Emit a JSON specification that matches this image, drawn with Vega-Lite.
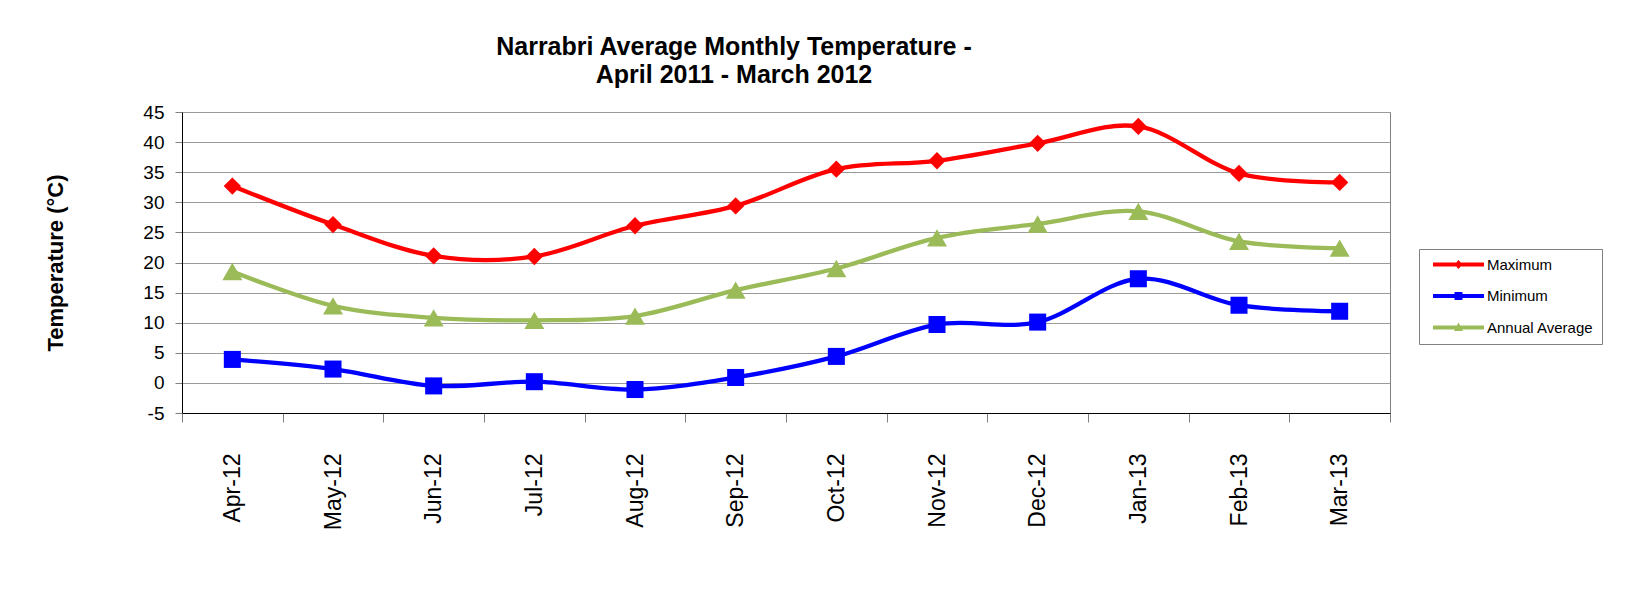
{
  "$schema": "https://vega.github.io/schema/vega-lite/v6.json",
  "width": 1208,
  "height": 301,
  "autosize": {"type": "none"},
  "padding": {"left": 182, "top": 112, "right": 240, "bottom": 196},
  "background": "white",
  "title": {
    "text": ["Narrabri Average Monthly Temperature -", "April 2011 - March 2012"],
    "fontSize": 25,
    "fontWeight": "bold",
    "lineHeight": 28,
    "offset": 15,
    "dx": -52,
    "anchor": "middle",
    "color": "black",
    "font": "Liberation Sans"
  },
  "data": {
    "values": [
      {"month": "Apr-12", "series": "Maximum", "value": 32.7},
      {"month": "May-12", "series": "Maximum", "value": 26.3},
      {"month": "Jun-12", "series": "Maximum", "value": 21.1},
      {"month": "Jul-12", "series": "Maximum", "value": 21.0},
      {"month": "Aug-12", "series": "Maximum", "value": 26.1},
      {"month": "Sep-12", "series": "Maximum", "value": 29.4},
      {"month": "Oct-12", "series": "Maximum", "value": 35.5},
      {"month": "Nov-12", "series": "Maximum", "value": 36.9},
      {"month": "Dec-12", "series": "Maximum", "value": 39.8},
      {"month": "Jan-13", "series": "Maximum", "value": 42.6},
      {"month": "Feb-13", "series": "Maximum", "value": 34.8},
      {"month": "Mar-13", "series": "Maximum", "value": 33.3},
      {"month": "Apr-12", "series": "Minimum", "value": 3.9},
      {"month": "May-12", "series": "Minimum", "value": 2.3},
      {"month": "Jun-12", "series": "Minimum", "value": -0.5},
      {"month": "Jul-12", "series": "Minimum", "value": 0.2},
      {"month": "Aug-12", "series": "Minimum", "value": -1.1},
      {"month": "Sep-12", "series": "Minimum", "value": 0.9},
      {"month": "Oct-12", "series": "Minimum", "value": 4.4},
      {"month": "Nov-12", "series": "Minimum", "value": 9.7},
      {"month": "Dec-12", "series": "Minimum", "value": 10.1},
      {"month": "Jan-13", "series": "Minimum", "value": 17.3},
      {"month": "Feb-13", "series": "Minimum", "value": 12.9},
      {"month": "Mar-13", "series": "Minimum", "value": 11.9},
      {"month": "Apr-12", "series": "Annual Average", "value": 18.5},
      {"month": "May-12", "series": "Annual Average", "value": 12.8},
      {"month": "Jun-12", "series": "Annual Average", "value": 10.8},
      {"month": "Jul-12", "series": "Annual Average", "value": 10.4},
      {"month": "Aug-12", "series": "Annual Average", "value": 11.1},
      {"month": "Sep-12", "series": "Annual Average", "value": 15.4},
      {"month": "Oct-12", "series": "Annual Average", "value": 19.0},
      {"month": "Nov-12", "series": "Annual Average", "value": 24.1},
      {"month": "Dec-12", "series": "Annual Average", "value": 26.4},
      {"month": "Jan-13", "series": "Annual Average", "value": 28.5},
      {"month": "Feb-13", "series": "Annual Average", "value": 23.5},
      {"month": "Mar-13", "series": "Annual Average", "value": 22.4}
    ]
  },
  "encoding": {
    "x": {
      "field": "month",
      "type": "nominal",
      "sort": null,
      "bandPosition": 0.5,
      "scale": {"type": "band", "paddingInner": 0, "paddingOuter": 0},
      "axis": {
        "title": null,
        "labelAngle": 270,
        "labelFontSize": 23,
        "labelColor": "black",
        "labelPadding": 31,
        "tickSize": 9,
        "tickColor": "#808080",
        "tickBand": "extent",
        "domainColor": "black",
        "grid": false
      }
    },
    "y": {
      "field": "value",
      "type": "quantitative",
      "scale": {"domain": [-5, 45], "nice": false, "zero": false},
      "axis": {
        "title": "Temperature (°C)",
        "titleFontSize": 22,
        "titleFontWeight": "bold",
        "titleColor": "black",
        "titlePadding": 75,
        "values": [-5, 0, 5, 10, 15, 20, 25, 30, 35, 40, 45],
        "labelExpr": "replace(datum.label, '−', '-')",
        "labelFontSize": 19,
        "labelColor": "black",
        "labelPadding": 11,
        "tickSize": 7,
        "tickColor": "#808080",
        "domainColor": "black",
        "grid": true,
        "gridColor": "#9a9a9a",
        "gridWidth": 1
      }
    }
  },
  "layer": [
    {
      "transform": [{"filter": "datum.series == 'Maximum'"}],
      "mark": {"type": "line", "interpolate": "cardinal", "strokeWidth": 4.3, "strokeJoin": "round", "strokeCap": "round", "color": "#FF0000"}
    },
    {
      "transform": [{"filter": "datum.series == 'Minimum'"}],
      "mark": {"type": "line", "interpolate": "cardinal", "strokeWidth": 4.3, "strokeJoin": "round", "strokeCap": "round", "color": "#0000FF"}
    },
    {
      "transform": [{"filter": "datum.series == 'Annual Average'"}],
      "mark": {"type": "line", "interpolate": "cardinal", "strokeWidth": 4.3, "strokeJoin": "round", "strokeCap": "round", "color": "#9BBB59"}
    },
    {
      "transform": [{"filter": "datum.series == 'Maximum'"}],
      "mark": {"type": "point", "shape": "diamond", "filled": true, "size": 300, "opacity": 1, "strokeWidth": 0, "color": "#FF0000"}
    },
    {
      "transform": [{"filter": "datum.series == 'Minimum'"}],
      "mark": {"type": "point", "shape": "square", "filled": true, "size": 290, "opacity": 1, "strokeWidth": 0, "color": "#0000FF"}
    },
    {
      "transform": [{"filter": "datum.series == 'Annual Average'"}],
      "mark": {"type": "point", "shape": "triangle-up", "filled": true, "size": 400, "opacity": 1, "strokeWidth": 0, "color": "#9BBB59"}
    },
    {
      "transform": [{"filter": "false"}],
      "mark": {"type": "point", "filled": true, "size": 225, "opacity": 1, "strokeWidth": 0},
      "encoding": {
        "color": {
          "field": "series",
          "type": "nominal",
          "scale": {
            "domain": ["Maximum", "Minimum", "Annual Average"],
            "range": ["#FF0000", "#0000FF", "#9BBB59"]
          },
          "legend": {
            "title": null,
            "orient": "none",
            "legendX": 1237,
            "legendY": 137,
            "padding": 8,
            "strokeColor": "#808080",
            "fillColor": "white",
            "symbolSize": 225,
            "symbolStrokeWidth": 0,
            "labelFontSize": 15,
            "labelColor": "black",
            "labelOffset": 45,
            "rowPadding": 15.5,
            "labelLimit": 300
          }
        },
        "shape": {
          "field": "series",
          "type": "nominal",
          "scale": {
            "domain": ["Maximum", "Minimum", "Annual Average"],
            "range": [
              "M-0.2,-0.267H6.6V0.267H-0.2Z M2.67,0L3.2,-0.6L3.73,0L3.2,0.6Z",
              "M-0.2,-0.267H6.6V0.267H-0.2Z M2.67,-0.53H3.73V0.53H2.67Z",
              "M-0.2,-0.267H6.6V0.267H-0.2Z M3.2,-0.67L3.8,0.47L2.6,0.47Z"
            ]
          },
          "legend": {
            "title": null,
            "orient": "none",
            "legendX": 1237,
            "legendY": 137,
            "padding": 8,
            "strokeColor": "#808080",
            "fillColor": "white",
            "symbolSize": 225,
            "symbolStrokeWidth": 0,
            "labelFontSize": 15,
            "labelColor": "black",
            "labelOffset": 45,
            "rowPadding": 15.5,
            "labelLimit": 300
          }
        }
      }
    }
  ],
  "config": {
    "font": "Liberation Sans",
    "view": {"stroke": "#808080", "strokeWidth": 1}
  }
}
